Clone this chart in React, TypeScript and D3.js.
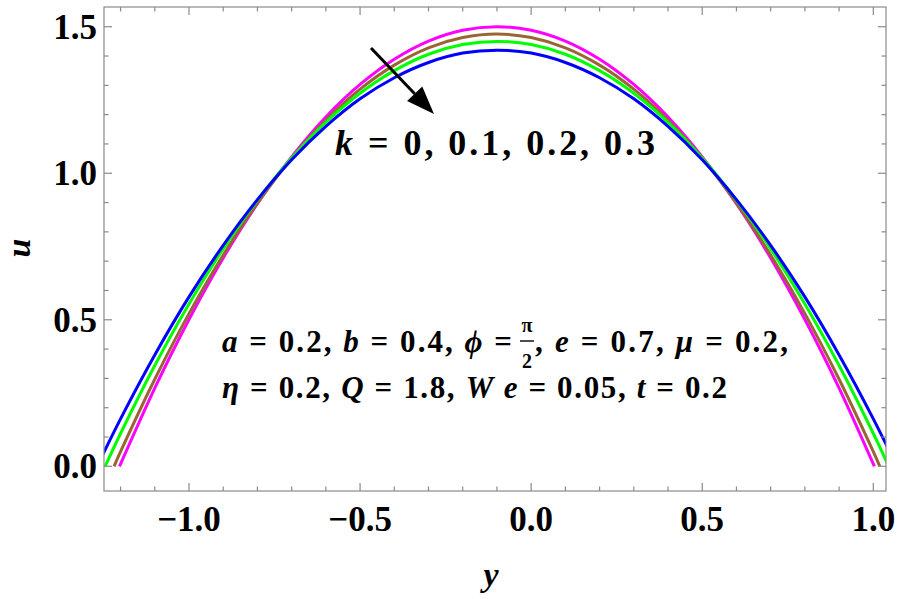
import React from "react";
import * as d3 from "d3";

// Velocity profiles u(y) for several values of k
const kValues = [0, 0.1, 0.2, 0.3];
const seriesColors = ["#ff00ff", "#996633", "#00ff00", "#0000ff"];

// Interior sample points across the channel
const yGrid = [
  -1.2, -1.1, -1.0, -0.9, -0.8, -0.7, -0.6, -0.5, -0.4, -0.3, -0.2, -0.1,
  0.0, 0.1, 0.2, 0.3, 0.4, 0.5, 0.6, 0.7, 0.8, 0.9, 1.0,
];

// Wall positions where u = 0, one per k
const lowerWall = [-1.203, -1.219, -1.245, -1.2685];
const upperWall = [1.003, 1.019, 1.045, 1.0685];

const uK0 = [
  0.008, 0.267, 0.501, 0.711, 0.896, 1.056, 1.192, 1.303, 1.389, 1.451, 1.488, 1.5,
  1.488, 1.451, 1.389, 1.303, 1.192, 1.056, 0.896, 0.711, 0.501, 0.267, 0.008,
];
const uK1 = [
  0.05, 0.297, 0.521, 0.721, 0.898, 1.051, 1.181, 1.287, 1.369, 1.428, 1.463, 1.475,
  1.463, 1.428, 1.369, 1.287, 1.181, 1.051, 0.898, 0.721, 0.521, 0.297, 0.05,
];
const uK2 = [
  0.112, 0.344, 0.554, 0.742, 0.908, 1.052, 1.174, 1.273, 1.35, 1.406, 1.439, 1.45,
  1.439, 1.406, 1.35, 1.273, 1.174, 1.052, 0.908, 0.742, 0.554, 0.344, 0.112,
];
const uK3 = [
  0.162, 0.38, 0.578, 0.754, 0.91, 1.046, 1.16, 1.254, 1.326, 1.378, 1.41, 1.42,
  1.41, 1.378, 1.326, 1.254, 1.16, 1.046, 0.91, 0.754, 0.578, 0.38, 0.162,
];
const uSeries = [uK0, uK1, uK2, uK3];

// Axis ticks
const xMajorTicks = [-1.0, -0.5, 0.0, 0.5, 1.0];
const xMajorLabels = ["\u22121.0", "\u22120.5", "0.0", "0.5", "1.0"];
const yMajorTicks = [0.0, 0.5, 1.0, 1.5];
const yMajorLabels = ["0.0", "0.5", "1.0", "1.5"];

const W = 901;
const H = 599;
const frame = { left: 104, right: 886, top: 7, bottom: 491 };
const FONT = "Liberation Serif, Times New Roman, serif";

export default function App() {
  const x = d3.scaleLinear().domain([-1.2484, 1.0371]).range([frame.left, frame.right]);
  const y = d3.scaleLinear().domain([-0.0843, 1.5673]).range([frame.bottom, frame.top]);

  const line = d3
    .line<[number, number]>()
    .x((d) => x(d[0]))
    .y((d) => y(d[1]))
    .curve(d3.curveCatmullRom.alpha(0.5));

  const paths = uSeries.map((u, i) => {
    const pts: [number, number][] = [[lowerWall[i], 0]];
    yGrid.forEach((yy, j) => pts.push([yy, u[j]]));
    pts.push([upperWall[i], 0]);
    return line(pts) as string;
  });

  const xMinor = d3.range(-12, 11).map((v) => v / 10).filter((v) => Math.abs(v * 2 - Math.round(v * 2)) > 1e-6);
  const yMinor = d3.range(0, 16).map((v) => v / 10).filter((v) => Math.abs(v * 2 - Math.round(v * 2)) > 1e-6);

  const tickColor = "#8a8a8a";
  const majorLen = 8;
  const minorLen = 4.5;

  // Arrow pointing in the direction of increasing k
  const ax0 = 371, ay0 = 48, ax1 = 434, ay1 = 114;
  const ang = Math.atan2(ay1 - ay0, ax1 - ax0);
  const headLen = 28, headHalf = 10.5;
  const bx = ax1 - headLen * Math.cos(ang);
  const by = ay1 - headLen * Math.sin(ang);
  const px = -Math.sin(ang) * headHalf;
  const py = Math.cos(ang) * headHalf;

  return (
    <svg
      width={W}
      height={H}
      viewBox={`0 0 ${W} ${H}`}
      style={{ position: "absolute", left: 0, top: 0, background: "#fff" }}
    >
      <defs>
        <clipPath id="plot-area">
          <rect x={frame.left} y={frame.top} width={frame.right - frame.left} height={frame.bottom - frame.top} />
        </clipPath>
      </defs>
      <rect x={0} y={0} width={W} height={H} fill="#fff" />

      {/* curves */}
      <g clipPath="url(#plot-area)">
        {paths.map((p, i) => (
          <path key={kValues[i]} d={p} fill="none" stroke={seriesColors[i]} strokeWidth={3} />
        ))}
      </g>

      {/* frame */}
      <rect
        x={frame.left}
        y={frame.top}
        width={frame.right - frame.left}
        height={frame.bottom - frame.top}
        fill="none"
        stroke={tickColor}
        strokeWidth={1.2}
      />

      {/* x ticks, bottom and top; y ticks, left and right */}
      <g stroke={tickColor} strokeWidth={1.2}>
        {xMajorTicks.map((t) => (
          <g key={`xM${t}`}>
            <line x1={x(t)} x2={x(t)} y1={frame.bottom} y2={frame.bottom - majorLen} />
            <line x1={x(t)} x2={x(t)} y1={frame.top} y2={frame.top + majorLen} />
          </g>
        ))}
        {xMinor.map((t) => (
          <g key={`xm${t}`}>
            <line x1={x(t)} x2={x(t)} y1={frame.bottom} y2={frame.bottom - minorLen} />
            <line x1={x(t)} x2={x(t)} y1={frame.top} y2={frame.top + minorLen} />
          </g>
        ))}
        {yMajorTicks.map((t) => (
          <g key={`yM${t}`}>
            <line x1={frame.left} x2={frame.left + majorLen} y1={y(t)} y2={y(t)} />
            <line x1={frame.right} x2={frame.right - majorLen} y1={y(t)} y2={y(t)} />
          </g>
        ))}
        {yMinor.map((t) => (
          <g key={`ym${t}`}>
            <line x1={frame.left} x2={frame.left + minorLen} y1={y(t)} y2={y(t)} />
            <line x1={frame.right} x2={frame.right - minorLen} y1={y(t)} y2={y(t)} />
          </g>
        ))}
      </g>

      {/* tick labels */}
      <g fontFamily={FONT} fontWeight="bold" fontSize={35} fill="#000">
        {xMajorTicks.map((t, i) => (
          <text key={`xl${t}`} x={x(t)} y={531} textAnchor="middle">
            {xMajorLabels[i]}
          </text>
        ))}
        {yMajorTicks.map((t, i) => (
          <text key={`yl${t}`} x={97} y={y(t) + 12} textAnchor="end">
            {yMajorLabels[i]}
          </text>
        ))}
      </g>

      {/* axis titles */}
      <text
        x={491}
        y={586}
        textAnchor="middle"
        fontFamily={FONT}
        fontWeight="bold"
        fontStyle="italic"
        fontSize={34}
      >
        y
      </text>
      <text
        transform="translate(30,248) rotate(-90)"
        textAnchor="middle"
        fontFamily={FONT}
        fontWeight="bold"
        fontStyle="italic"
        fontSize={34}
      >
        u
      </text>

      {/* arrow */}
      <line x1={ax0} y1={ay0} x2={bx} y2={by} stroke="#000" strokeWidth={3} />
      <polygon
        points={`${ax1},${ay1} ${bx + px},${by + py} ${bx - px},${by - py}`}
        fill="#000"
      />

      {/* k label */}
      <text
        x={335}
        y={155}
        fontFamily={FONT}
        fontWeight="bold"
        fontSize={36}
        textLength={320}
        lengthAdjust="spacing"
      >
        <tspan fontStyle="italic">k</tspan>
        {" = " + kValues.map((k) => String(k)).join(", ")}
      </text>

      {/* parameter labels */}
      <g fontFamily={FONT} fontWeight="bold" fontSize={31} fill="#000">
        <text x={222} y={352} textLength={290} lengthAdjust="spacing">
          <tspan fontStyle="italic">a</tspan>
          {" = 0.2, "}
          <tspan fontStyle="italic">b</tspan>
          {" = 0.4, "}
          <tspan fontStyle="italic">{"\u03d5"}</tspan>
          {" ="}
        </text>
        <text x={527} y={332} textAnchor="middle" fontSize={20}>
          {"\u03c0"}
        </text>
        <line x1={520} x2={534} y1={341} y2={341} stroke="#000" strokeWidth={1.4} />
        <text x={527} y={368} textAnchor="middle" fontSize={20}>
          2
        </text>
        <text x={535} y={352} textLength={253} lengthAdjust="spacing">
          {", "}
          <tspan fontStyle="italic">e</tspan>
          {" = 0.7, "}
          <tspan fontStyle="italic">{"\u03bc"}</tspan>
          {" = 0.2,"}
        </text>
        <text x={222} y={398} textLength={505} lengthAdjust="spacing">
          <tspan fontStyle="italic">{"\u03b7"}</tspan>
          {" = 0.2, "}
          <tspan fontStyle="italic">Q</tspan>
          {" = 1.8, "}
          <tspan fontStyle="italic">W e</tspan>
          {" = 0.05, "}
          <tspan fontStyle="italic">t</tspan>
          {" = 0.2"}
        </text>
      </g>
    </svg>
  );
}
